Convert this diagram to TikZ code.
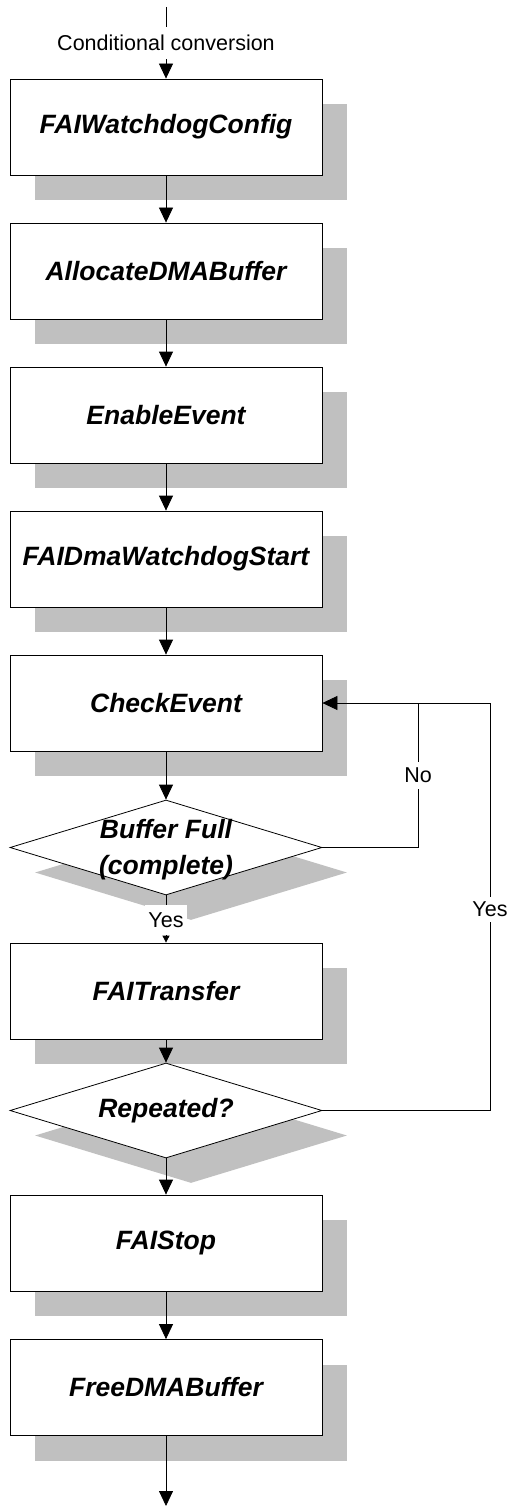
\documentclass[tikz,border=0pt]{standalone}
\usepackage{fontspec}
\setmainfont{Liberation Sans}
\usetikzlibrary{arrows.meta,shapes.geometric,shadows}
\definecolor{shadowgray}{HTML}{C0C0C0}
\tikzset{
  shade25/.style={drop shadow={shadow xshift=25pt,shadow yshift=-25pt,fill=shadowgray,opacity=1}},
  stepbox/.style={rectangle,draw=black,line width=0.8pt,fill=white,minimum width=312pt,minimum height=96pt,inner sep=0pt,shade25,font=\fontsize{26.5}{30}\selectfont\bfseries\itshape},
  decbox/.style={diamond,draw=black,line width=0.8pt,fill=white,minimum width=312pt,minimum height=95pt,inner sep=0pt,shade25},
  dectext/.style={align=center,inner sep=0pt,font=\fontsize{26.5}{36}\selectfont\bfseries\itshape},
  lbl/.style={fill=white,inner sep=1.5pt,font=\fontsize{21.5}{24}\selectfont},
  conn/.style={line width=0.8pt,draw=black},
  arr/.style={conn,-{Triangle[length=15pt,width=14pt]}},
  arrsmall/.style={conn,-{Triangle[length=7pt,width=7pt]}}
}
\begin{document}
\begin{tikzpicture}[x=1pt,y=1pt]
\useasboundingbox (0,0) rectangle (513,-1506);
\node[stepbox] (b1) at (166,-127) {FAIWatchdogConfig};
\node[stepbox] (b2) at (166,-271) {AllocateDMABuffer};
\node[stepbox] (b3) at (166,-415) {EnableEvent};
\node[stepbox] (b4) at (166,-559) {FAIDmaWatchdogStart};
\node[stepbox] (b5) at (166,-703) {CheckEvent};
\node[decbox] (d1) at (166,-847.5) {};
\node[dectext] (d1t) at (166,-850) {Buffer Full\\(complete)};
\node[stepbox] (b6) at (166,-991) {FAITransfer};
\node[decbox] (d2) at (166,-1110.5) {};
\node[dectext] (d2t) at (166,-1110.5) {Repeated?};
\node[stepbox] (b7) at (166,-1243) {FAIStop};
\node[stepbox] (b8) at (166,-1387.5) {FreeDMABuffer};

\coordinate (start) at (166,-7);
\coordinate (finish) at (166,-1506);
\coordinate (cN) at (418,-703);
\coordinate (cR) at (490,-703);

\draw[arr] (start) -- (b1.north);
\draw[arr] (b1.south) -- (b2.north);
\draw[arr] (b2.south) -- (b3.north);
\draw[arr] (b3.south) -- (b4.north);
\draw[arr] (b4.south) -- (b5.north);
\draw[arr] (b5.south) -- (d1.north);
\draw[arrsmall] (d1.south) -- (b6.north);
\draw[arr] (b6.south) -- (d2.north);
\draw[arr] (d2.south) -- (b7.north);
\draw[arr] (b7.south) -- (b8.north);
\draw[arr] (b8.south) -- (finish);
\draw[conn] (d1.east) -| (cN);
\draw[arr] (d2.east) -| (cR) -- (b5.east);

\node[lbl,inner sep=8pt] (cond) at (166,-43) {Conditional conversion};
\node[lbl,inner xsep=3pt,inner ysep=7.5pt] (yes1) at (166,-920) {Yes};
\node[lbl,inner ysep=6pt] (no) at (418,-775) {No};
\node[lbl,inner sep=5pt] (yes2) at (490,-909) {Yes};
\end{tikzpicture}
\end{document}
